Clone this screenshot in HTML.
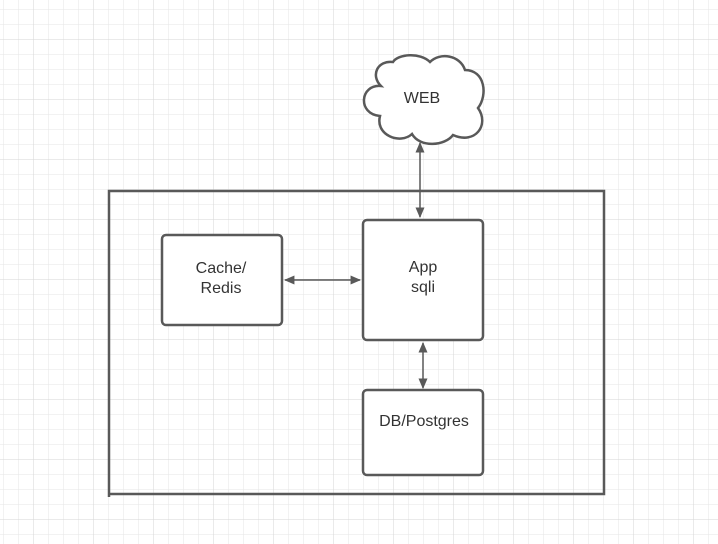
<!DOCTYPE html>
<html><head><style>
html,body{margin:0;padding:0;background:#fff;}
svg{display:block;}
text{font-family:"Liberation Sans",sans-serif;font-size:16px;fill:#333;text-anchor:middle;}
</style></head><body>
<svg width="718" height="544" viewBox="0 0 718 544" xmlns="http://www.w3.org/2000/svg">
<defs>
<pattern id="minor" x="3" y="9" width="15" height="15" patternUnits="userSpaceOnUse">
<path d="M0 0H15M0 0V15" stroke="#e6e6e6" stroke-width="1" fill="none"/>
</pattern>
<pattern id="major" x="33" y="39" width="60" height="60" patternUnits="userSpaceOnUse">
<path d="M0 0H60M0 0V60" stroke="#d6d6d6" stroke-width="1" fill="none"/>
</pattern>
<marker id="a" viewBox="0 0 10 10" refX="9" refY="5" markerWidth="7" markerHeight="6" orient="auto-start-reverse" markerUnits="strokeWidth" preserveAspectRatio="none">
<path d="M0 0L10 5L0 10z" fill="#595959"/>
</marker>
</defs>
<rect width="718" height="544" fill="url(#minor)"/>
<rect width="718" height="544" fill="url(#major)"/>
<g fill="none" stroke="#595959" stroke-width="2.5">
<path d="M109 497V191H604V494H109"/>
<path d="M381 86 C360 84 357 114 380 116 C375 135 400 145 412 134 C420 148 445 146 453 135 C475 145 490 125 478 108 C488 95 485 70 465 70 C460 55 440 52 430 62 C420 52 398 54 393 62 C378 60 370 75 381 86 Z" fill="#fff"/>
<rect x="162" y="235" width="120" height="90" rx="4" fill="#fff"/>
<rect x="363" y="220" width="120" height="120" rx="4" fill="#fff"/>
<rect x="363" y="390" width="120" height="85" rx="4" fill="#fff"/>
<g stroke-width="1.5">
<line x1="420" y1="143" x2="420" y2="217" marker-start="url(#a)" marker-end="url(#a)"/>
<line x1="285" y1="280" x2="360" y2="280" marker-start="url(#a)" marker-end="url(#a)"/>
<line x1="423" y1="343" x2="423" y2="388" marker-start="url(#a)" marker-end="url(#a)"/>
</g>
</g>
<text x="422" y="103">WEB</text>
<text x="221" y="273">Cache/</text>
<text x="221" y="293">Redis</text>
<text x="423" y="272">App</text>
<text x="423" y="292">sqli</text>
<text x="424" y="426">DB/Postgres</text>
</svg>
</body></html>
